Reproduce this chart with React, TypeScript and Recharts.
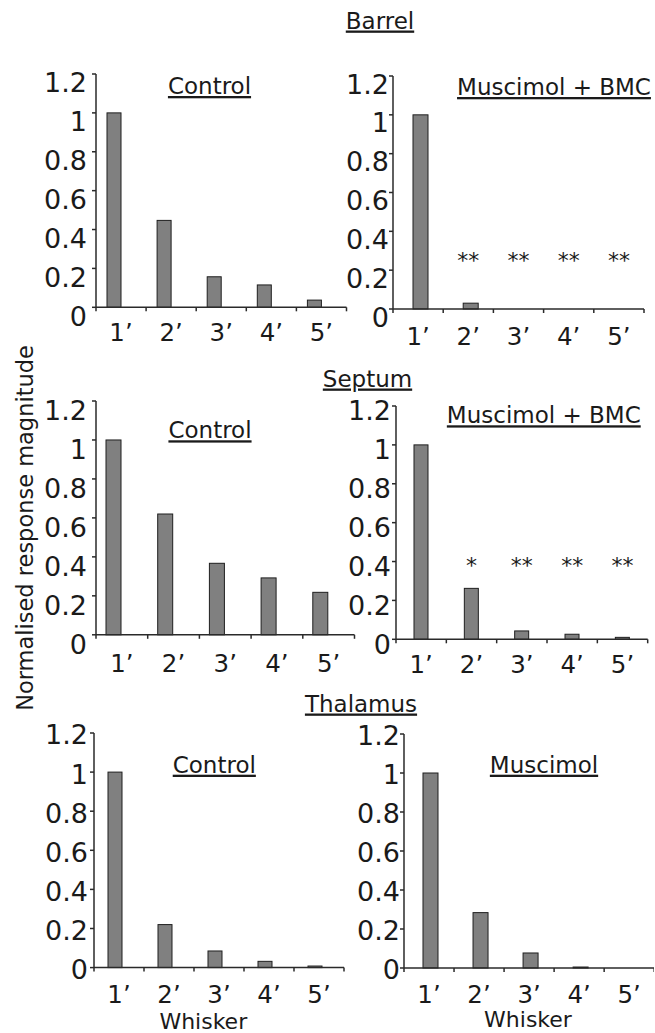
import React from 'react';
import { BarChart, Bar, XAxis, YAxis, ReferenceDot } from 'recharts';

// ---------- data ----------
const whiskers = ['1’', '2’', '3’', '4’', '5’'];
const yTicks = [0, 0.2, 0.4, 0.6, 0.8, 1, 1.2];

const barrelControl = [1, 0.447, 0.157, 0.115, 0.037];
const barrelMuscimolBMC = [1, 0.03, 0, 0, 0];
const septumControl = [1, 0.62, 0.367, 0.292, 0.218];
const septumMuscimolBMC = [1, 0.262, 0.043, 0.026, 0.01];
const thalamusControl = [1, 0.22, 0.085, 0.032, 0.008];
const thalamusMuscimol = [1, 0.284, 0.077, 0.005, 0];

const barrelMuscimolBMCSig = ['', '**', '**', '**', '**'];
const septumMuscimolBMCSig = ['', '*', '**', '**', '**'];

const regionTitles = ['Barrel', 'Septum', 'Thalamus'];
const conditionTitles = ['Control', 'Muscimol + BMC', 'Control', 'Muscimol + BMC', 'Control', 'Muscimol'];
const yLabel = 'Normalised response magnitude';
const xLabel = 'Whisker';

// ---------- style / layout ----------
const FONT = '"DejaVu Sans", Verdana, sans-serif';
const INK = '#1a1a1a';
const AXIS = '#2a2a2a';
const BAR_FILL = '#808080';
const BAR_STROKE = '#1e1e1e';
const YW = 100;
const MT = 26;
const XH = 50;

type Panel = {
  values: number[];
  sig: string[] | null;
  sigLevel: number;
  plot: [number, number, number, number];
  barSize: number;
  shift: number;
  yGap: number;
  yDy: number;
  xDy: number;
  mr: number;
};

const panels: Panel[] = [
  { values: barrelControl, sig: null, sigLevel: 0, plot: [95.7, 74, 346.2, 307.3], barSize: 14, shift: -7, yGap: 10, yDy: 9, xDy: 34, mr: 5 },
  { values: barrelMuscimolBMC, sig: barrelMuscimolBMCSig, sigLevel: 0.275, plot: [393.3, 76, 644.3, 309], barSize: 15, shift: 2, yGap: 5, yDy: 8, xDy: 36, mr: 5 },
  { values: septumControl, sig: null, sigLevel: 0, plot: [95.7, 400.5, 354.2, 634.3], barSize: 15, shift: -8, yGap: 10, yDy: 10, xDy: 37, mr: 5 },
  { values: septumMuscimolBMC, sig: septumMuscimolBMCSig, sigLevel: 0.405, plot: [396, 406, 647.7, 639.3], barSize: 14, shift: 0, yGap: 6, yDy: 5, xDy: 34, mr: 5 },
  { values: thalamusControl, sig: null, sigLevel: 0, plot: [94.3, 732.7, 344.3, 967.3], barSize: 14, shift: -4, yGap: 7, yDy: 2, xDy: 35, mr: 5 },
  { values: thalamusMuscimol, sig: null, sigLevel: 0, plot: [404.3, 734.3, 654.5, 968.3], barSize: 15, shift: 1, yGap: 5, yDy: 2, xDy: 35, mr: 0 },
];

const regionTitleLayout = [
  { x: 380, y: 28.5 },
  { x: 367.5, y: 386.5 },
  { x: 361, y: 711.5 },
];
const conditionTitleLayout = [
  { x: 209.5, y: 94 },
  { x: 554, y: 95 },
  { x: 210, y: 438.3 },
  { x: 543.8, y: 423.3 },
  { x: 214.3, y: 772.7 },
  { x: 544, y: 772.7 },
];
const xLabelLayout = [
  { x: 203.3, y: 1028.5 },
  { x: 528, y: 1026.5 },
];

const xTicks = Array.from({ length: whiskers.length * 2 + 1 }, (_, k) => k / 2);

function XTick(props: any) {
  const { x, y, payload, labelDy } = props;
  const v = payload.value;
  if (Number.isInteger(v)) {
    return <line x1={x} y1={y} x2={x} y2={y + 4} stroke={AXIS} strokeWidth={1.5} />;
  }
  return (
    <text x={x} y={y + labelDy} textAnchor="middle" fontSize={24.5} fontFamily={FONT} fill={INK}>
      {whiskers[Math.floor(v)]}
    </text>
  );
}

function YTick(props: any) {
  const { x, y, payload, gap, labelDy } = props;
  return (
    <text
      x={x - (gap - 5)}
      y={y + labelDy}
      textAnchor="end"
      dominantBaseline="central"
      fontSize={27}
      fontFamily={FONT}
      fill={INK}
    >
      {String(payload.value)}
    </text>
  );
}

function StarLabel(props: any) {
  const { viewBox, text } = props;
  const cx = viewBox.x + viewBox.width / 2;
  const cy = viewBox.y + viewBox.height / 2;
  return (
    <text x={cx} y={cy + 12.5} textAnchor="middle" fontSize={22} fontFamily={FONT} fill={INK}>
      {text}
    </text>
  );
}

function PanelChart({ p }: { p: Panel }) {
  const [l, t, r, b] = p.plot;
  const plotW = r - l;
  const plotH = b - t;
  const width = YW + plotW + p.mr;
  const height = MT + plotH + XH;
  const rows = p.values.map((v, i) => ({ pos: i + 0.5, whisker: whiskers[i], value: v }));
  const shift = p.shift;
  return (
    <div style={{ position: 'absolute', left: l - YW, top: t - MT, width, height }}>
      <BarChart width={width} height={height} data={rows} margin={{ top: MT, right: p.mr, bottom: 0, left: 0 }}>
        <XAxis
          dataKey="pos"
          type="number"
          domain={[0, whiskers.length]}
          ticks={xTicks}
          interval={0}
          tickSize={0}
          tickMargin={0}
          tickLine={false}
          height={XH}
          axisLine={{ stroke: AXIS, strokeWidth: 1.5 }}
          tick={(tp: any) => <XTick {...tp} labelDy={p.xDy} />}
        />
        <YAxis
          type="number"
          domain={[0, 1.2]}
          ticks={yTicks}
          interval={0}
          width={YW}
          tickSize={4}
          tickMargin={0}
          axisLine={{ stroke: AXIS, strokeWidth: 1.5 }}
          tickLine={{ stroke: AXIS, strokeWidth: 1.5 }}
          tick={(tp: any) => <YTick {...tp} gap={p.yGap} labelDy={p.yDy} />}
        />
        <Bar
          dataKey="value"
          barSize={p.barSize}
          isAnimationActive={false}
          shape={(bp: any) =>
            bp.height > 0 ? (
              <rect
                x={bp.x + shift}
                y={bp.y}
                width={bp.width}
                height={bp.height}
                fill={BAR_FILL}
                stroke={BAR_STROKE}
                strokeWidth={1}
              />
            ) : (
              <g />
            )
          }
        />
        {p.sig &&
          p.sig.map((s, i) =>
            s ? (
              <ReferenceDot
                key={i}
                x={i + 0.5}
                y={p.sigLevel}
                r={1}
                fill="none"
                stroke="none"
                label={(lp: any) => <StarLabel {...lp} text={s} />}
              />
            ) : null
          )}
      </BarChart>
    </div>
  );
}

export default function App() {
  return (
    <div
      style={{
        position: 'absolute',
        left: 0,
        top: 0,
        width: 655,
        height: 1033,
        background: '#ffffff',
        overflow: 'hidden',
        fontFamily: FONT,
      }}
    >
      {panels.map((p, i) => (
        <PanelChart key={i} p={p} />
      ))}
      <svg width={655} height={1033} style={{ position: 'absolute', left: 0, top: 0, pointerEvents: 'none' }}>
        {regionTitles.map((t, i) => (
          <text
            key={'r' + i}
            x={regionTitleLayout[i].x}
            y={regionTitleLayout[i].y}
            textAnchor="middle"
            fontSize={23}
            fontFamily={FONT}
            fill={INK}
            style={{ textDecoration: 'underline' }}
          >
            {t}
          </text>
        ))}
        {conditionTitles.map((t, i) => (
          <text
            key={'c' + i}
            x={conditionTitleLayout[i].x}
            y={conditionTitleLayout[i].y}
            textAnchor="middle"
            fontSize={23}
            fontFamily={FONT}
            fill={INK}
            style={{ textDecoration: 'underline' }}
          >
            {t}
          </text>
        ))}
        {xLabelLayout.map((pos, i) => (
          <text key={'x' + i} x={pos.x} y={pos.y} textAnchor="middle" fontSize={22} fontFamily={FONT} fill={INK}>
            {xLabel}
          </text>
        ))}
        <text
          x={33}
          y={528}
          transform="rotate(-90 33 528)"
          textAnchor="middle"
          fontSize={22.5}
          fontFamily={FONT}
          fill={INK}
        >
          {yLabel}
        </text>
      </svg>
    </div>
  );
}
